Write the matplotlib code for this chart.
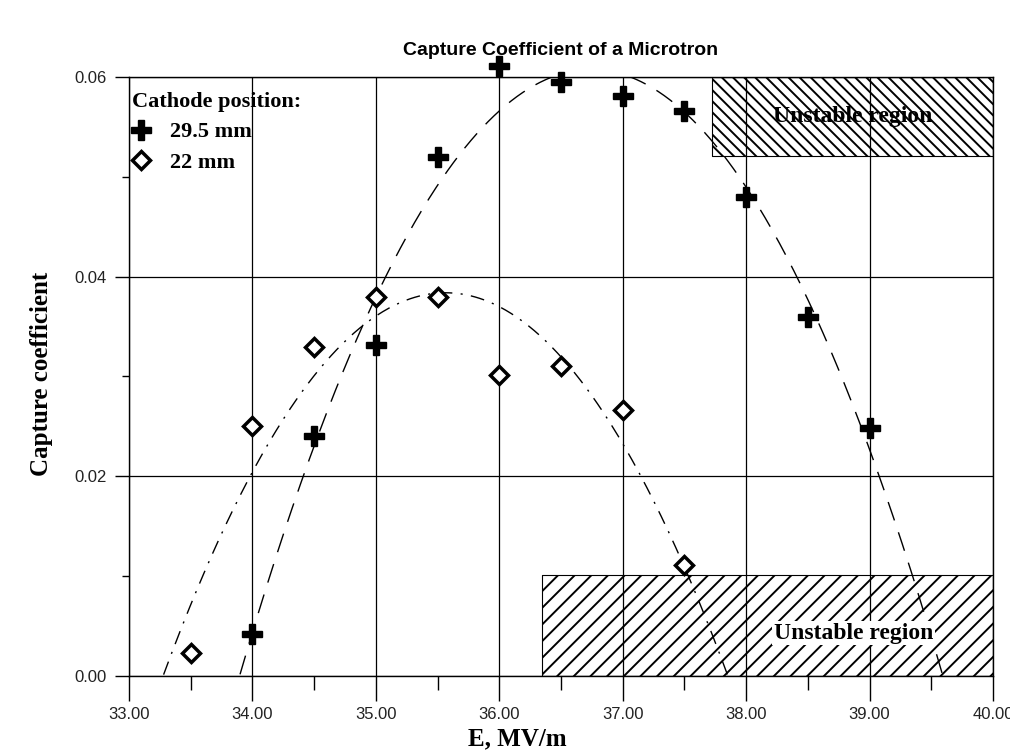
import matplotlib
matplotlib.use("Agg")
import matplotlib.pyplot as plt
import numpy as np
from matplotlib.ticker import MultipleLocator, FormatStrFormatter

# data
e_295 = [34.0, 34.5, 35.0, 35.5, 36.0, 36.5, 37.0, 37.5, 38.0, 38.5, 39.0]
k_295 = [0.0042, 0.0240, 0.0332, 0.0520, 0.0611, 0.0595, 0.0581, 0.0566, 0.0480, 0.0360, 0.0248]

e_22 = [33.5, 34.0, 34.5, 35.0, 35.5, 36.0, 36.5, 37.0, 37.5]
k_22 = [0.0023, 0.0250, 0.0330, 0.0380, 0.0380, 0.0301, 0.0311, 0.0266, 0.0111]

# unstable regions: (x0, x1, y0, y1)
unstable_top = (37.72, 40.0, 0.0521, 0.060)
unstable_bottom = (36.35, 40.0, 0.0, 0.0101)

serif = "Liberation Serif"
sans = "Liberation Sans"

fig = plt.figure(figsize=(10.10, 7.52), dpi=100)
ax = fig.add_axes([0.1277, 0.1011, 0.8555, 0.7965])

# polynomial trend lines, like the spreadsheet did
xs = np.linspace(33.0, 40.0, 600)
fit_295 = np.polyval(np.polyfit(e_295, k_295, 2), xs)
fit_22 = np.polyval(np.polyfit(e_22, k_22, 2), xs)
fit_295[fit_295 < 0] = np.nan
fit_22[fit_22 < 0] = np.nan

plt.rcParams["hatch.linewidth"] = 1.4
for (x0, x1, y0, y1), hatch in [(unstable_top, "\\\\\\"), (unstable_bottom, "//")]:
    ax.fill_between([x0, x1], y0, y1, facecolor="none", edgecolor="black",
                    hatch=hatch, linewidth=0.8, zorder=1)

ax.text((unstable_top[0] + unstable_top[1]) / 2, (unstable_top[2] + unstable_top[3]) / 2,
        "Unstable region", family=serif, fontweight="bold", fontsize=17,
        ha="center", va="center", zorder=4)
ax.text(38.87, 0.0043, "Unstable region", family=serif, fontweight="bold", fontsize=17,
        ha="center", va="center", zorder=4,
        bbox=dict(facecolor="white", edgecolor="none", pad=1))

ax.plot(xs, fit_295, color="black", lw=1.0, dashes=(14, 9), zorder=3)
ax.plot(xs, fit_22, color="black", lw=1.0, dashes=(10, 6, 1.5, 6), zorder=3)

ax.plot(e_295, k_295, "P", color="black", markersize=15, linestyle="none",
        label="29.5 mm", clip_on=False, zorder=5)
ax.plot(e_22, k_22, "D", markerfacecolor="white", markeredgecolor="black",
        markeredgewidth=2.5, markersize=9, linestyle="none",
        label="22 mm", clip_on=False, zorder=5)

ax.set_xlim(33.0, 40.0)
ax.set_ylim(0.0, 0.06)
ax.xaxis.set_major_locator(MultipleLocator(1.0))
ax.xaxis.set_minor_locator(MultipleLocator(0.5))
ax.yaxis.set_major_locator(MultipleLocator(0.02))
ax.yaxis.set_minor_locator(MultipleLocator(0.01))
ax.xaxis.set_major_formatter(FormatStrFormatter("%.2f"))
ax.yaxis.set_major_formatter(FormatStrFormatter("%.2f"))
ax.tick_params(axis="x", which="major", direction="out", length=18, width=1, pad=4)
ax.tick_params(axis="x", which="minor", direction="out", length=10, width=1)
ax.tick_params(axis="y", which="major", direction="out", length=10, width=1, pad=6)
ax.tick_params(axis="y", which="minor", direction="out", length=5, width=1)
for lab in ax.get_xticklabels() + ax.get_yticklabels():
    lab.set_family(sans)
    lab.set_fontsize(12)
    lab.set_color("#222222")

ax.grid(True, which="major", color="black", linewidth=0.9)
ax.set_axisbelow(True)
for s in ax.spines.values():
    s.set_linewidth(1.0)

ax.set_xlabel("E, MV/m", family=serif, fontweight="bold", fontsize=18)
ax.xaxis.set_label_coords(0.449, -0.085)
ax.set_ylabel("Capture coefficient", family=serif, fontweight="bold", fontsize=18)
ax.yaxis.set_label_coords(-0.088, 0.505)
ax.set_title("Capture Coefficient of a Microtron", family=sans, fontweight="bold",
             fontsize=14, pad=16)

leg = ax.legend(title="Cathode position:", loc="upper left", frameon=False,
                prop={"family": serif, "weight": "bold", "size": 16},
                bbox_to_anchor=(-0.017, 1.005),
                handletextpad=0.9, handlelength=0.8,
                labelspacing=0.45, borderpad=0.3)
leg.get_title().set_family(serif)
leg.get_title().set_fontweight("bold")
leg.get_title().set_fontsize(16)
leg._legend_box.align = "left"

fig.savefig("out.png", dpi=100)
